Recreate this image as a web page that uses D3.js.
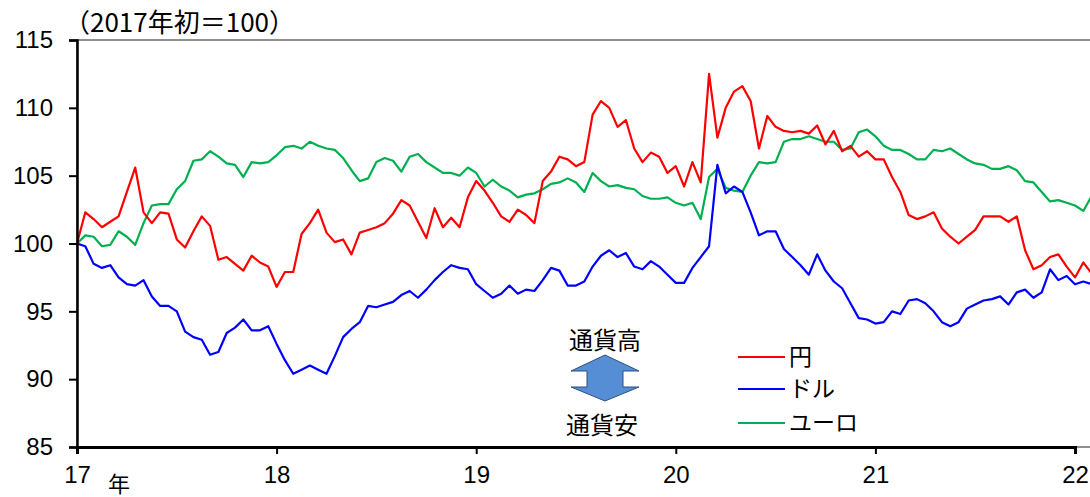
<!DOCTYPE html>
<html>
<head>
<meta charset="utf-8">
<script src="https://cdn.jsdelivr.net/npm/d3@7"></script>
<style>
  html, body { margin: 0; padding: 0; background: #fff; }
  #chart { width: 1090px; height: 497px; }
</style>
</head>
<body>
<div id="chart"></div>
<script>
// half-month steps from start of 2017
const yearTicks = [2017, 2018, 2019, 2020, 2021, 2022];
const yearLabels = ["17", "18", "19", "20", "21", "22"];
const yTicks = [85, 90, 95, 100, 105, 110, 115];

const yen = [
  100, 102.3, 101.8, 101.2, 101.6, 102, 103.8, 105.6, 102.3, 101.5,
  102.3, 102.2, 100.3, 99.7, 100.9, 102, 101.3, 98.8, 99, 98.5,
  98, 99.1, 98.6, 98.3, 96.8, 97.9, 97.9, 100.7, 101.5, 102.5,
  100.8, 100.1, 100.3, 99.2, 100.8, 101, 101.2, 101.5, 102.2, 103.2,
  102.8, 101.6, 100.4, 102.6, 101.2, 101.9, 101.2, 103.4, 104.6, 103.9,
  103, 102, 101.6, 102.5, 102.1, 101.5, 104.6, 105.3, 106.4, 106.2,
  105.7, 106, 109.5, 110.5, 110, 108.6, 109.1, 107, 106, 106.7,
  106.4, 105.2, 105.7, 104.2, 106, 104.5, 112.5, 107.8, 110, 111.2,
  111.6, 110.5, 107, 109.4, 108.6, 108.3, 108.2, 108.3, 108.1, 108.7,
  107.3, 108.3, 106.8, 107.2, 106.4, 106.8, 106.2, 106.2, 104.9, 103.8,
  102.1, 101.8, 102, 102.3, 101.1, 100.5, 100, 100.5, 101, 102,
  102, 102, 101.6, 102, 99.5, 98.1, 98.4, 99, 99.2, 98.3,
  97.5, 98.6, 97.8
];

const dollar = [
  100, 99.8, 98.5, 98.2, 98.4, 97.5, 97, 96.9, 97.3, 96.1,
  95.4, 95.4, 95, 93.5, 93.1, 92.9, 91.8, 92, 93.4, 93.8,
  94.4, 93.6, 93.6, 93.9, 92.6, 91.4, 90.4, 90.7, 91, 90.7,
  90.4, 91.7, 93.1, 93.7, 94.2, 95.4, 95.3, 95.5, 95.7, 96.2,
  96.5, 96, 96.6, 97.3, 97.9, 98.4, 98.2, 98.1, 97, 96.5,
  96, 96.3, 96.9, 96.3, 96.6, 96.5, 97.3, 98.2, 98, 96.9,
  96.9, 97.2, 98.3, 99.1, 99.5, 99, 99.3, 98.3, 98.1, 98.7,
  98.3, 97.7, 97.1, 97.1, 98.2, 99, 99.8, 105.8, 103.7, 104.2,
  103.8, 102.3, 100.6, 100.9, 100.9, 99.6, 99, 98.4, 97.7, 99.2,
  98, 97.2, 96.7, 95.6, 94.5, 94.4, 94.1, 94.2, 95, 94.8,
  95.8, 95.9, 95.6, 95, 94.2, 93.9, 94.2, 95.2, 95.5, 95.8,
  95.9, 96.1, 95.5, 96.4, 96.6, 96, 96.4, 98.1, 97.3, 97.6,
  97, 97.2, 97
];

const euro = [
  100, 100.6, 100.5, 99.8, 99.9, 100.9, 100.5, 99.9, 101.5, 102.8,
  102.9, 102.9, 104, 104.6, 106.1, 106.2, 106.8, 106.4, 105.9, 105.8,
  104.9, 106, 105.9, 106, 106.5, 107.1, 107.2, 107, 107.5, 107.2,
  107, 106.9, 106.3, 105.4, 104.6, 104.8, 106, 106.3, 106.1, 105.3,
  106.4, 106.6, 106, 105.6, 105.2, 105.2, 105, 105.6, 105.2, 104.2,
  104.7, 104.2, 103.9, 103.4, 103.6, 103.7, 104, 104.4, 104.5, 104.8,
  104.5, 103.8, 105.2, 104.6, 104.2, 104.3, 104.1, 104, 103.5, 103.3,
  103.3, 103.4, 103, 102.8, 103, 101.8, 104.9, 105.5, 104.1, 103.9,
  103.8, 105, 106, 105.9, 106, 107.5, 107.7, 107.7, 107.9, 107.7,
  107.5, 107.5, 106.9, 107, 108.2, 108.4, 107.9, 107.2, 106.9, 106.9,
  106.6, 106.2, 106.2, 106.9, 106.8, 107, 106.6, 106.2, 105.9, 105.8,
  105.5, 105.5, 105.7, 105.4, 104.6, 104.5, 103.8, 103.1, 103.2, 103,
  102.8, 102.4, 103.5
];

const seriesNames = ["円", "ドル", "ユーロ"];
const seriesColors = ["#FF0000", "#0000FF", "#00B050"];

function drawChart() {
  const width = 1090, height = 497;
  const left = 77, right = 1090, top = 40, bottom = 447;

  const svg = d3.select("#chart")
    .append("svg")
    .attr("width", width)
    .attr("height", height)
    .attr("viewBox", `0 0 ${width} ${height}`);

  const dates = yen.map((d, i) => 2017 + i / 24);

  const xScale = d3.scaleLinear()
    .domain([2017, 2022])
    .range([left, 1075]);

  const yScale = d3.scaleLinear()
    .domain([85, 115])
    .range([bottom, top]);

  // plot frame (top / right in gray)
  svg.append("rect")
    .attr("x", left)
    .attr("y", top)
    .attr("width", right - left + 5)
    .attr("height", bottom - top)
    .attr("fill", "none")
    .attr("stroke", "#6b6b6b")
    .attr("stroke-width", 1.5);

  svg.append("defs").append("clipPath")
    .attr("id", "plot-clip")
    .append("rect")
    .attr("x", left)
    .attr("y", top)
    .attr("width", right - left)
    .attr("height", bottom - top);

  const line = d3.line()
    .x((d, i) => xScale(dates[i]))
    .y(d => yScale(d));

  const lines = svg.append("g").attr("clip-path", "url(#plot-clip)");
  // euro first, then dollar, yen on top
  [[euro, 2], [dollar, 1], [yen, 0]].forEach(([vals, k]) => {
    lines.append("path")
      .datum(vals)
      .attr("fill", "none")
      .attr("stroke", seriesColors[k])
      .attr("stroke-width", 2.2)
      .attr("stroke-linejoin", "round")
      .attr("d", line);
  });

  // y axis
  const yAxis = d3.axisLeft(yScale)
    .tickValues(yTicks)
    .tickSize(8)
    .tickPadding(16)
    .tickFormat(d3.format("d"));

  const gy = svg.append("g")
    .attr("transform", `translate(${left},0)`)
    .call(yAxis);
  gy.select(".domain").attr("stroke", "#000").attr("stroke-width", 2.5);
  gy.selectAll(".tick line").attr("stroke", "#000").attr("stroke-width", 2);
  gy.selectAll(".tick text")
    .style("font-family", "'Liberation Sans', Arial, sans-serif")
    .style("font-size", "24px")
    .attr("fill", "#000");

  // x axis
  const xAxis = d3.axisBottom(xScale)
    .tickValues(yearTicks)
    .tickSize(7)
    .tickPadding(12)
    .tickFormat((d, i) => yearLabels[i]);

  const gx = svg.append("g")
    .attr("transform", `translate(0,${bottom})`)
    .call(xAxis);
  gx.select(".domain").attr("stroke", "#000").attr("stroke-width", 3);
  gx.selectAll(".tick line").attr("stroke", "#000").attr("stroke-width", 2);
  gx.selectAll(".tick text")
    .style("font-family", "'Liberation Sans', Arial, sans-serif")
    .style("font-size", "24px")
    .attr("fill", "#000");

  svg.append("text")
    .attr("x", 119)
    .attr("y", 492)
    .attr("text-anchor", "middle")
    .style("font-family", "'Noto Sans CJK JP', sans-serif")
    .style("font-size", "22px")
    .text("年");

  // unit note
  svg.append("text")
    .attr("x", 64)
    .attr("y", 32)
    .style("font-family", "'Noto Sans CJK JP', sans-serif")
    .style("font-size", "26px")
    .text("（2017年初＝100）");

  // 通貨高 / 通貨安 arrow
  const cx = 605;
  svg.append("text")
    .attr("x", cx)
    .attr("y", 349)
    .attr("text-anchor", "middle")
    .style("font-family", "'Noto Sans CJK JP', sans-serif")
    .style("font-size", "24px")
    .text("通貨高");

  svg.append("text")
    .attr("x", cx - 3)
    .attr("y", 434)
    .attr("text-anchor", "middle")
    .style("font-family", "'Noto Sans CJK JP', sans-serif")
    .style("font-size", "24px")
    .text("通貨安");

  const arrow = [
    [0, 355], [34, 371], [18, 371], [18, 387], [34, 387],
    [0, 401], [-34, 387], [-18, 387], [-18, 371], [-34, 371]
  ];
  svg.append("polygon")
    .attr("points", arrow.map(p => `${cx + p[0]},${p[1]}`).join(" "))
    .attr("fill", "#558ED5")
    .attr("stroke", "#2F4F7F")
    .attr("stroke-width", 1);

  // legend
  const legendY = [357, 389, 423];
  const legend = svg.append("g");
  seriesNames.forEach((name, i) => {
    legend.append("line")
      .attr("x1", 738)
      .attr("x2", 785)
      .attr("y1", legendY[i])
      .attr("y2", legendY[i])
      .attr("stroke", seriesColors[i])
      .attr("stroke-width", 2);
    legend.append("text")
      .attr("x", 789)
      .attr("y", legendY[i])
      .attr("dy", "0.36em")
      .style("font-family", "'Noto Sans CJK JP', sans-serif")
      .style("font-size", "23px")
      .text(name);
  });
}

drawChart();
</script>
</body>
</html>
